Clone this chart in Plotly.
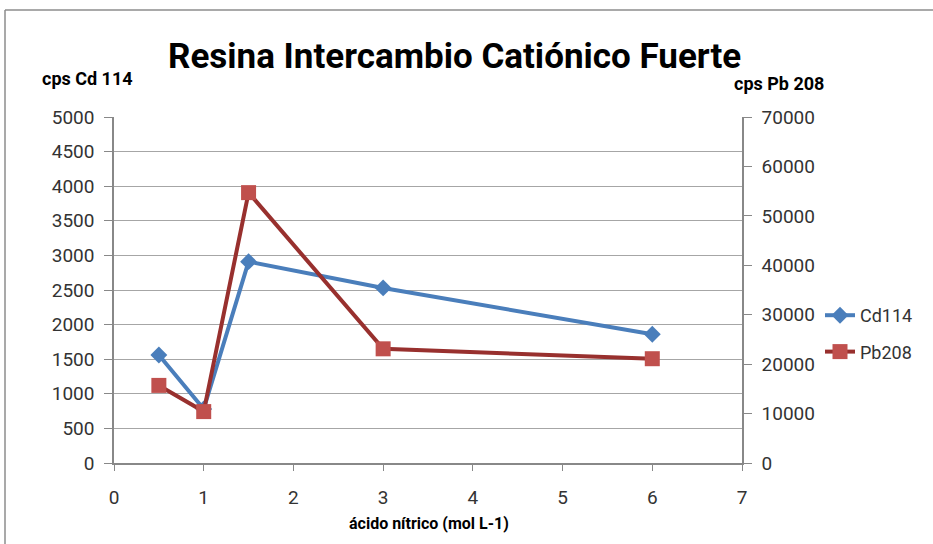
import plotly.graph_objects as go

# Concentración de ácido nítrico (mol L-1)
acido = [0.5, 1, 1.5, 3, 6]
# Cuentas por segundo
cd114 = [1560, 780, 2910, 2530, 1860]
pb208 = [15700, 10400, 54700, 23100, 21100]

left_ticks = list(range(0, 5001, 500))
right_ticks = list(range(0, 70001, 10000))
x_ticks = list(range(0, 8))

W, H = 933, 544
L, R, T, B = 114, 742, 117, 463

base = "Roboto, Open Sans, DejaVu Sans, sans-serif"
tick_font = dict(family=base, size=19, color="#333333")
axis_color = "#888888"

fig = go.Figure()
fig.add_trace(go.Scatter(
    x=acido, y=cd114, name="Cd114", mode="lines+markers",
    line=dict(color="#4a7ebb", width=4),
    marker=dict(symbol="diamond", size=13, color="#4a7ebb"),
    legendgroup="a", yaxis="y",
))
fig.add_trace(go.Scatter(
    x=acido, y=pb208, name="Pb208", mode="lines+markers",
    line=dict(color="#98302e", width=4),
    marker=dict(symbol="square", size=15, color="#c0504d"),
    legendgroup="b", yaxis="y2",
))

def px_x(p):
    return (p - L) / (R - L)

def px_y(p):
    return (B - p) / (B - T)

fig.update_layout(
    width=W, height=H,
    margin=dict(l=L, r=W - R, t=T, b=H - B),
    paper_bgcolor="white", plot_bgcolor="white",
    showlegend=True,
    legend=dict(
        x=px_x(820), y=px_y(297), xanchor="left", yanchor="top",
        font=dict(family=base, size=18, color="#333333"),
        tracegroupgap=10, bgcolor="rgba(0,0,0,0)",
    ),
    xaxis=dict(
        range=[0, 7], tickvals=x_ticks, showgrid=False, zeroline=False,
        showline=True, linecolor=axis_color, linewidth=1.5,
        ticks="outside", tickcolor=axis_color, ticklen=6,
        tickfont=tick_font, ticklabelstandoff=10,
    ),
    yaxis=dict(
        range=[0, 5000], tickvals=left_ticks, showgrid=True,
        gridcolor="#a6a6a6", gridwidth=1.2, zeroline=False,
        showline=True, linecolor=axis_color, linewidth=1.5,
        ticks="outside", tickcolor=axis_color, ticklen=8,
        tickfont=tick_font, ticklabelstandoff=6,
    ),
    yaxis2=dict(
        range=[0, 70000], tickvals=right_ticks,
        ticktext=[str(v) for v in right_ticks],
        overlaying="y", side="right",
        showgrid=False, zeroline=False,
        showline=True, linecolor=axis_color, linewidth=1.5,
        ticks="outside", tickcolor=axis_color, ticklen=8,
        tickfont=tick_font, ticklabelstandoff=6,
    ),
)

# Marco del área del gráfico
fig.add_shape(type="line", xref="paper", yref="paper",
              x0=px_x(5), x1=px_x(940), y0=px_y(10), y1=px_y(10),
              line=dict(color="#8c8c8c", width=1.5))
fig.add_shape(type="line", xref="paper", yref="paper",
              x0=px_x(5), x1=px_x(5), y0=px_y(10), y1=px_y(560),
              line=dict(color="#8c8c8c", width=1.5))

fig.add_annotation(text="<b>Resina Intercambio Catiónico Fuerte</b>",
                   xref="paper", yref="paper", x=px_x(454), y=px_y(56),
                   xanchor="center", yanchor="middle",
                   showarrow=False, font=dict(family=base, size=35, color="black"))
fig.add_annotation(text="<b>cps Cd 114</b>", xref="paper", yref="paper",
                   x=px_x(87), y=px_y(78), xanchor="center", yanchor="middle",
                   showarrow=False, font=dict(family=base, size=18, color="black"))
fig.add_annotation(text="<b>cps Pb 208</b>", xref="paper", yref="paper",
                   x=px_x(779), y=px_y(84), xanchor="center", yanchor="middle",
                   showarrow=False, font=dict(family=base, size=18, color="black"))
fig.add_annotation(text="<b>ácido nítrico (mol L-1)</b>", xref="paper", yref="paper",
                   x=px_x(429), y=px_y(523), xanchor="center", yanchor="middle",
                   showarrow=False, font=dict(family=base, size=16, color="black"))

fig.write_html("out.html")
